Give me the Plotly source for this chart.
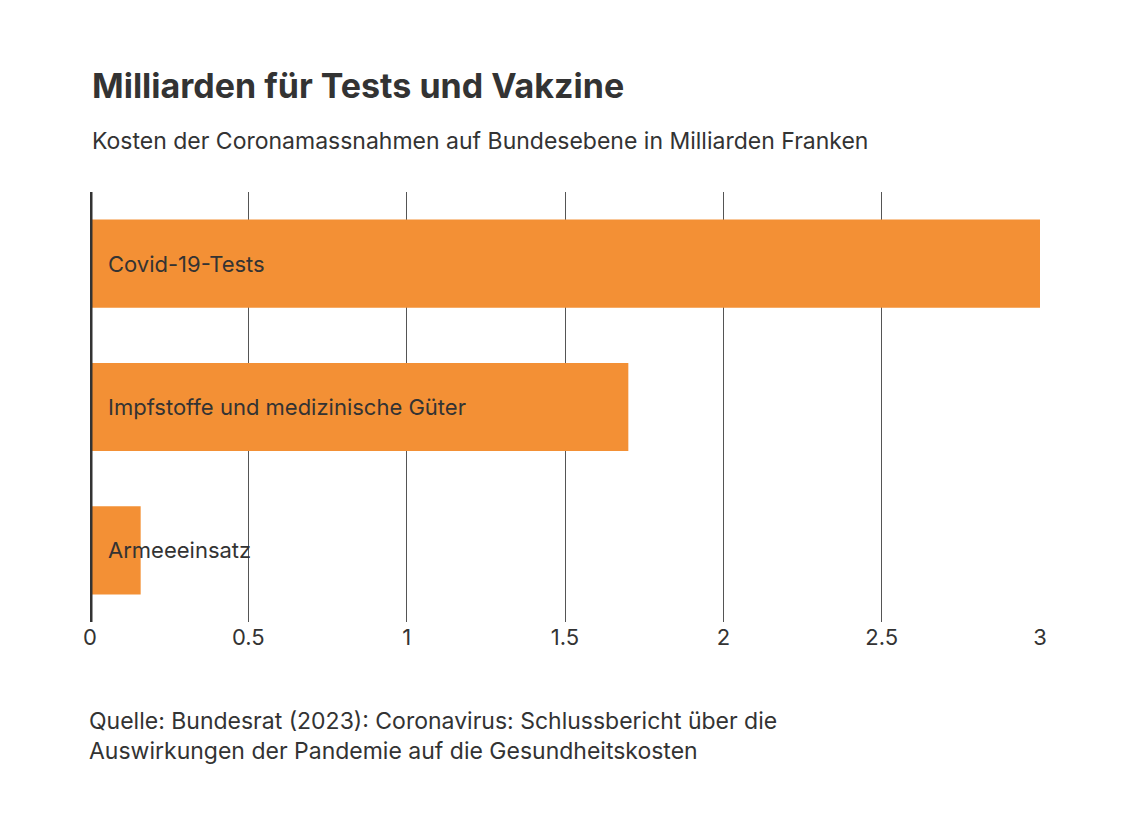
import plotly.graph_objects as go

categories = ["Covid-19-Tests", "Impfstoffe und medizinische Güter", "Armeeeinsatz"]
values = [3.0, 1.70, 0.16]
tick_vals = [0, 0.5, 1, 1.5, 2, 2.5, 3]
tick_text = ["0", "0.5", "1", "1.5", "2", "2.5", "3"]

font = "Inter, Roboto, sans-serif"
dark = "#333333"

fig = go.Figure()
fig.add_trace(go.Bar(
    x=values,
    y=categories,
    orientation="h",
    marker=dict(color="#F39035", line=dict(width=0)),
    hoverinfo="x+y",
))

for cat in categories:
    fig.add_annotation(x=0, y=cat, text=cat, xanchor="left", xshift=16,
                       showarrow=False, font=dict(family=font, size=22, color=dark))

fig.add_annotation(xref="paper", yref="paper", x=0, y=1, yshift=107, xanchor="left",
                   yanchor="middle", showarrow=False,
                   text="<b>Milliarden für Tests und Vakzine</b>",
                   font=dict(family=font, size=34, color=dark))
fig.add_annotation(xref="paper", yref="paper", x=0, y=1, yshift=51, xanchor="left",
                   yanchor="middle", showarrow=False,
                   text="Kosten der Coronamassnahmen auf Bundesebene in Milliarden Franken",
                   font=dict(family=font, size=23, color=dark))
fig.add_annotation(xref="paper", yref="paper", x=-0.003, y=0, yshift=-114, xanchor="left",
                   yanchor="middle", showarrow=False, align="left",
                   text="Quelle: Bundesrat (2023): Coronavirus: Schlussbericht über die<br>"
                        "Auswirkungen der Pandemie auf die Gesundheitskosten",
                   font=dict(family=font, size=23, color=dark))

fig.add_shape(type="line", xref="x", yref="paper", x0=0, x1=0, y0=0, y1=1,
              line=dict(color=dark, width=5))

fig.update_layout(
    width=1129, height=838,
    margin=dict(l=82, r=97, t=184, b=224),
    paper_bgcolor="white", plot_bgcolor="white",
    bargap=0.385,
    showlegend=False,
    font=dict(family=font, size=22, color=dark),
    xaxis=dict(range=[0, 3], tickvals=tick_vals, ticktext=tick_text,
               showgrid=True, gridcolor="#555555", gridwidth=1,
               zeroline=False, showline=False, ticks="", ticklen=0,
               tickfont=dict(size=22, color=dark)),
    yaxis=dict(autorange="reversed", showticklabels=False, showgrid=False,
               zeroline=False, showline=False),
)

fig.write_html("out.html")
